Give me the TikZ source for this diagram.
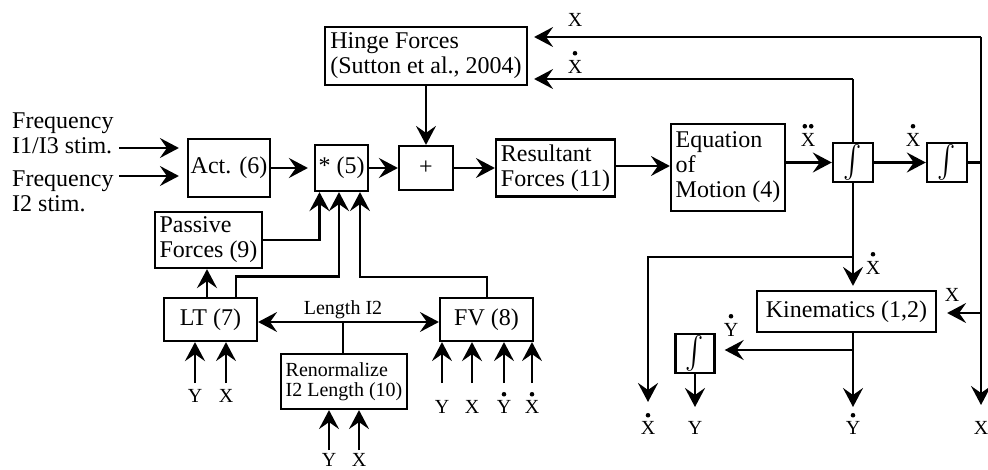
\documentclass[tikz,border=0pt]{standalone}
\usepackage{exscale}
\usepackage{graphicx}
\usepackage{fontspec}
\setmainfont{Liberation Serif}
\usetikzlibrary{arrows.meta}
\newcommand\intsym{\scalebox{1.1}[1.3]{$\int$}}
\begin{document}
\begin{tikzpicture}[x=1pt,y=-1pt,
  box/.style={draw,line width=2.2pt,inner sep=2pt,align=left,font=\fontsize{24}{25}\selectfont},
  sbox/.style={draw,line width=2.2pt,inner sep=2pt,align=left,font=\fontsize{20}{20}\selectfont},
  ibox/.style={draw,line width=2.4pt,inner sep=0pt,font=\fontsize{24}{25}\selectfont},
  lab/.style={inner sep=0pt,font=\fontsize{20}{20}\selectfont},
  big/.style={inner sep=0pt,align=left,font=\fontsize{24}{25}\selectfont},
  tip/.style={-{Stealth[length=19pt,width=20pt,inset=7pt]}},
  dtip/.style={{Stealth[length=19pt,width=20pt,inset=7pt]}-{Stealth[length=19pt,width=20pt,inset=7pt]}},
  ln/.style={line width=2.1pt},
  thk/.style={line width=2.8pt},
]
\useasboundingbox (0,0) rectangle (988,470);

% ---------- boxes ----------
\node[box,minimum width=202pt,minimum height=58pt] (hinge) at (426,56) {Hinge Forces\\(Sutton et al., 2004)};
\node[box,minimum width=82pt,minimum height=58pt] (act) at (229,168) {Act. (6)};
\node[box,minimum width=53pt,minimum height=46pt] (star) at (341.5,168) {* (5)};
\node[box,minimum width=54pt,minimum height=44pt] (plus) at (426,168) {+};
\node[box,minimum width=119pt,minimum height=57pt] (res) at (555.5,168) {Resultant\\Forces (11)};
\node[box,minimum width=114pt,minimum height=87pt] (eq) at (728,167.5) {Equation\\of\\Motion (4)};
\node[ibox,minimum width=40pt,minimum height=39pt] (int1) at (853,162.5) {\intsym};
\node[ibox,minimum width=40pt,minimum height=39pt] (int2) at (947,162.5) {\intsym};
\node[box,minimum width=107pt,minimum height=56pt] (pas) at (208.5,240) {Passive\\Forces (9)};
\node[box,minimum width=93pt,minimum height=43pt] (lt) at (210.5,319.5) {LT (7)};
\node[box,minimum width=93pt,minimum height=43pt] (fv) at (486.5,319.5) {FV (8)};
\node[sbox,minimum width=126pt,minimum height=55pt] (ren) at (344,381.5) {Renormalize\\I2 Length (10)};
\node[box,minimum width=179pt,minimum height=41pt] (kin) at (846.5,311.5) {Kinematics (1,2)};
\node[ibox,minimum width=39pt,minimum height=39pt] (int3) at (695,353.5) {\intsym};

% ---------- input texts ----------
\node[big,anchor=north west] (fr1) at (12,113) {Frequency\\I1/I3 stim.};
\node[big,anchor=north west] (fr2) at (12,171) {Frequency\\I2 stim.};
\coordinate (f1s) at (119,148);
\coordinate (f2s) at (119,176);
\draw[ln,tip,shorten >=8pt] (f1s) -- (f1s -| act.west);
\draw[ln,tip,shorten >=8pt] (f2s) -- (f2s -| act.west);

% ---------- main chain ----------
\draw[thk,tip,shorten >=6pt] (act.east) -- (star.west);
\draw[thk,tip] (star.east) -- (plus.west);
\draw[ln,tip] (plus.east) -- (res.west);
\draw[ln,tip] (hinge.south -| plus) -- (plus.north);
\draw[ln,tip] (res.east |- 0,166) -- (eq.west |- 0,166);
\draw[ln,tip] (eq.east |- int1) -- (int1.west);
\draw[ln,tip] (int1.east) -- (int2.west);

% ---------- right feedback ----------
\coordinate (rtop) at (981,37);
\coordinate (rbot) at (981,405);
\coordinate (rk) at (981,313);
\draw[ln] (int2.east) -- (int2.east -| rtop);
\draw[ln,tip] (rtop) -- (rbot);
\draw[ln,tip,shorten >=6pt] (rtop) -- (rtop -| hinge.east);
\coordinate (xd1) at (853,79);
\draw[ln] (int1.north) -- (xd1);
\draw[ln,tip,shorten >=6pt] (xd1) -- (xd1 -| hinge.east);
\coordinate (xb) at (853,257);
\coordinate (xl) at (648,257);
\coordinate (xlb) at (648,402);
\draw[ln] (int1.south) -- (xb);
\draw[ln,tip,shorten >=4pt] (xb) -- (xb |- kin.north);
\draw[thk,tip] (xb) -- (xl) -- (xlb);
\draw[ln,tip,shorten >=10pt] (rk) -- (rk -| kin.east);
\coordinate (ydb) at (853,407);
\coordinate (kb) at (853,350);
\draw[ln,tip] (kin.south -| ydb) -- (ydb);
\draw[ln,tip,shorten >=9pt] (kb) -- (kb -| int3.east);
\coordinate (yb) at (695,407);
\draw[thk,tip] (int3.south) -- (yb);

% ---------- lower left ----------
\draw[thk,tip] ([xshift=-3.5pt]lt.north) -- ([xshift=-3.5pt]lt.north |- pas.south);
\draw[thk,tip] (pas.east) -| ([xshift=-22pt]star.south);
\draw[thk,tip] ([xshift=25.5pt]lt.north) -- ++(0,-20) -| ([xshift=-2.5pt]star.south);
\draw[ln,tip] ([xshift=0.5pt]fv.north) -- ++(0,-20) -| ([xshift=18.5pt]star.south);
\draw[ln,dtip] ([yshift=-2.5pt]lt.east) -- ([yshift=-2.5pt]fv.west);
\draw[ln] ([xshift=-1pt]ren.north) -- ++(0,-32);
\node[lab] (len) at (343,310) {Length I2};

\coordinate (a1) at (195,383);
\coordinate (a2) at (226,383);
\draw[thk,tip] (a1) -- (a1 |- lt.south);
\draw[ln,tip] (a2) -- (a2 |- lt.south);
\node[lab] (la1) at (195,396) {Y};
\node[lab] (la2) at (226,396) {X};

\coordinate (b1) at (329,450);
\coordinate (b2) at (359,450);
\draw[ln,tip] (b1) -- (b1 |- ren.south);
\draw[ln,tip] (b2) -- (b2 |- ren.south);
\node[lab] (lb1) at (329,460) {Y};
\node[lab] (lb2) at (359,460) {X};

\coordinate (c1) at (442,383);
\coordinate (c2) at (472,383);
\coordinate (c3) at (504,383);
\coordinate (c4) at (532,383);
\draw[ln,tip] (c1) -- (c1 |- fv.south);
\draw[thk,tip] (c2) -- (c2 |- fv.south);
\draw[ln,tip] (c3) -- (c3 |- fv.south);
\draw[ln,tip] (c4) -- (c4 |- fv.south);
\node[lab] (lc1) at (442,407) {Y};
\node[lab] (lc2) at (472,407) {X};
\node[lab] (lc3) at (504,407) {Y};
\node[lab] (lc4) at (532,407) {X};
\fill ([yshift=6pt]lc3.north) circle (2.3pt);
\fill ([yshift=6pt]lc4.north) circle (2.3pt);

% ---------- signal labels ----------
\node[lab] (tx) at (575,20) {X};
\node[lab] (txd) at (575,67) {X};
\fill ([yshift=7pt]txd.north) circle (2.3pt);
\node[lab] (xdd) at (808,140) {X};
\fill ([yshift=7pt,xshift=-3.2pt]xdd.north) circle (2.3pt);
\fill ([yshift=7pt,xshift=3.2pt]xdd.north) circle (2.3pt);
\node[lab] (xdi) at (913,140) {X};
\fill ([yshift=7pt]xdi.north) circle (2.3pt);
\node[lab] (xdk) at (873,268) {X};
\fill ([yshift=7pt]xdk.north) circle (2.3pt);
\node[lab] (xk) at (952,294.5) {X};
\node[lab] (ydi) at (731,330) {Y};
\fill ([yshift=7pt]ydi.north) circle (2.3pt);

\node[lab] (o1) at (648,428) {X};
\fill ([yshift=6pt]o1.north) circle (2.3pt);
\node[lab] (o2) at (695,428) {Y};
\node[lab] (o3) at (853,428) {Y};
\fill ([yshift=6pt]o3.north) circle (2.3pt);
\node[lab] (o4) at (981,428) {X};
\end{tikzpicture}
\end{document}
